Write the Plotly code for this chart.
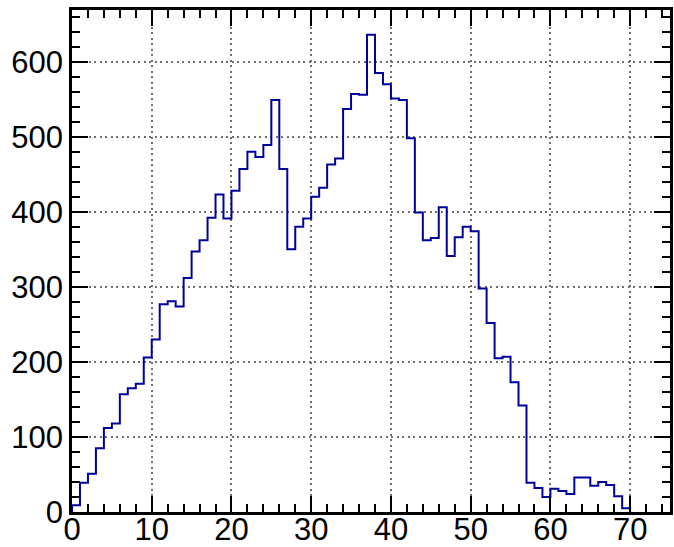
import plotly.graph_objects as go

# Bin layout: unit-width bins starting at 0
bin_start = 0
bin_width = 1

# Entries per bin
counts = [
    9, 39, 51, 85, 112, 118, 157, 165, 171, 206,
    230, 277, 281, 274, 312, 347, 362, 392, 423, 391,
    428, 457, 480, 473, 489, 549, 457, 350, 380, 391,
    420, 432, 463, 471, 537, 557, 556, 636, 585, 570,
    551, 549, 498, 399, 362, 365, 406, 341, 366, 380,
    374, 298, 252, 205, 207, 173, 142, 39, 32, 20,
    31, 28, 24, 46, 46, 35, 40, 36, 21, 5,
]

x_ticks = [0, 10, 20, 30, 40, 50, 60, 70]
y_ticks = [0, 100, 200, 300, 400, 500, 600]

# Step outline: start at the baseline, walk each bin edge, drop back to zero
edges = [bin_start + i * bin_width for i in range(len(counts) + 1)]
step_x = [edges[0]] + edges + [edges[-1]]
step_y = [0] + counts + [counts[-1], 0]

fig = go.Figure()
fig.add_trace(go.Scatter(
    x=step_x, y=step_y,
    mode="lines",
    line=dict(color="#00009c", width=2, shape="hv"),
    hoverinfo="skip",
    showlegend=False,
))

font = dict(family="Liberation Sans, Arial, sans-serif", size=31, color="black")

axis_common = dict(
    showline=True, linecolor="black", linewidth=2.5,
    mirror="allticks",
    ticks="inside", tickcolor="black", tickwidth=2,
    showgrid=True, gridcolor="#6f6f6f", gridwidth=1.5, griddash="2px,3.5px",
    zeroline=False,
    automargin=False,
    tickfont=font,
)

fig.update_xaxes(
    range=[0, 75], tickmode="array", tickvals=x_ticks,
    ticktext=[str(v) for v in x_ticks], ticklen=16,
    ticklabelstandoff=-12,
    minor=dict(dtick=2, ticklen=8, tickwidth=2, tickcolor="black",
               ticks="inside", showgrid=False),
    **axis_common,
)
fig.update_yaxes(
    range=[0, 669], tickmode="array", tickvals=y_ticks,
    ticktext=[str(v) for v in y_ticks], ticklen=16,
    minor=dict(dtick=20, ticklen=8, tickwidth=2, tickcolor="black",
               ticks="inside", showgrid=False),
    **axis_common,
)

fig.update_layout(
    width=674, height=547,
    margin=dict(l=72, r=4, t=10, b=35),
    paper_bgcolor="white", plot_bgcolor="white",
    font=font,
)

fig.write_html("out.html")
